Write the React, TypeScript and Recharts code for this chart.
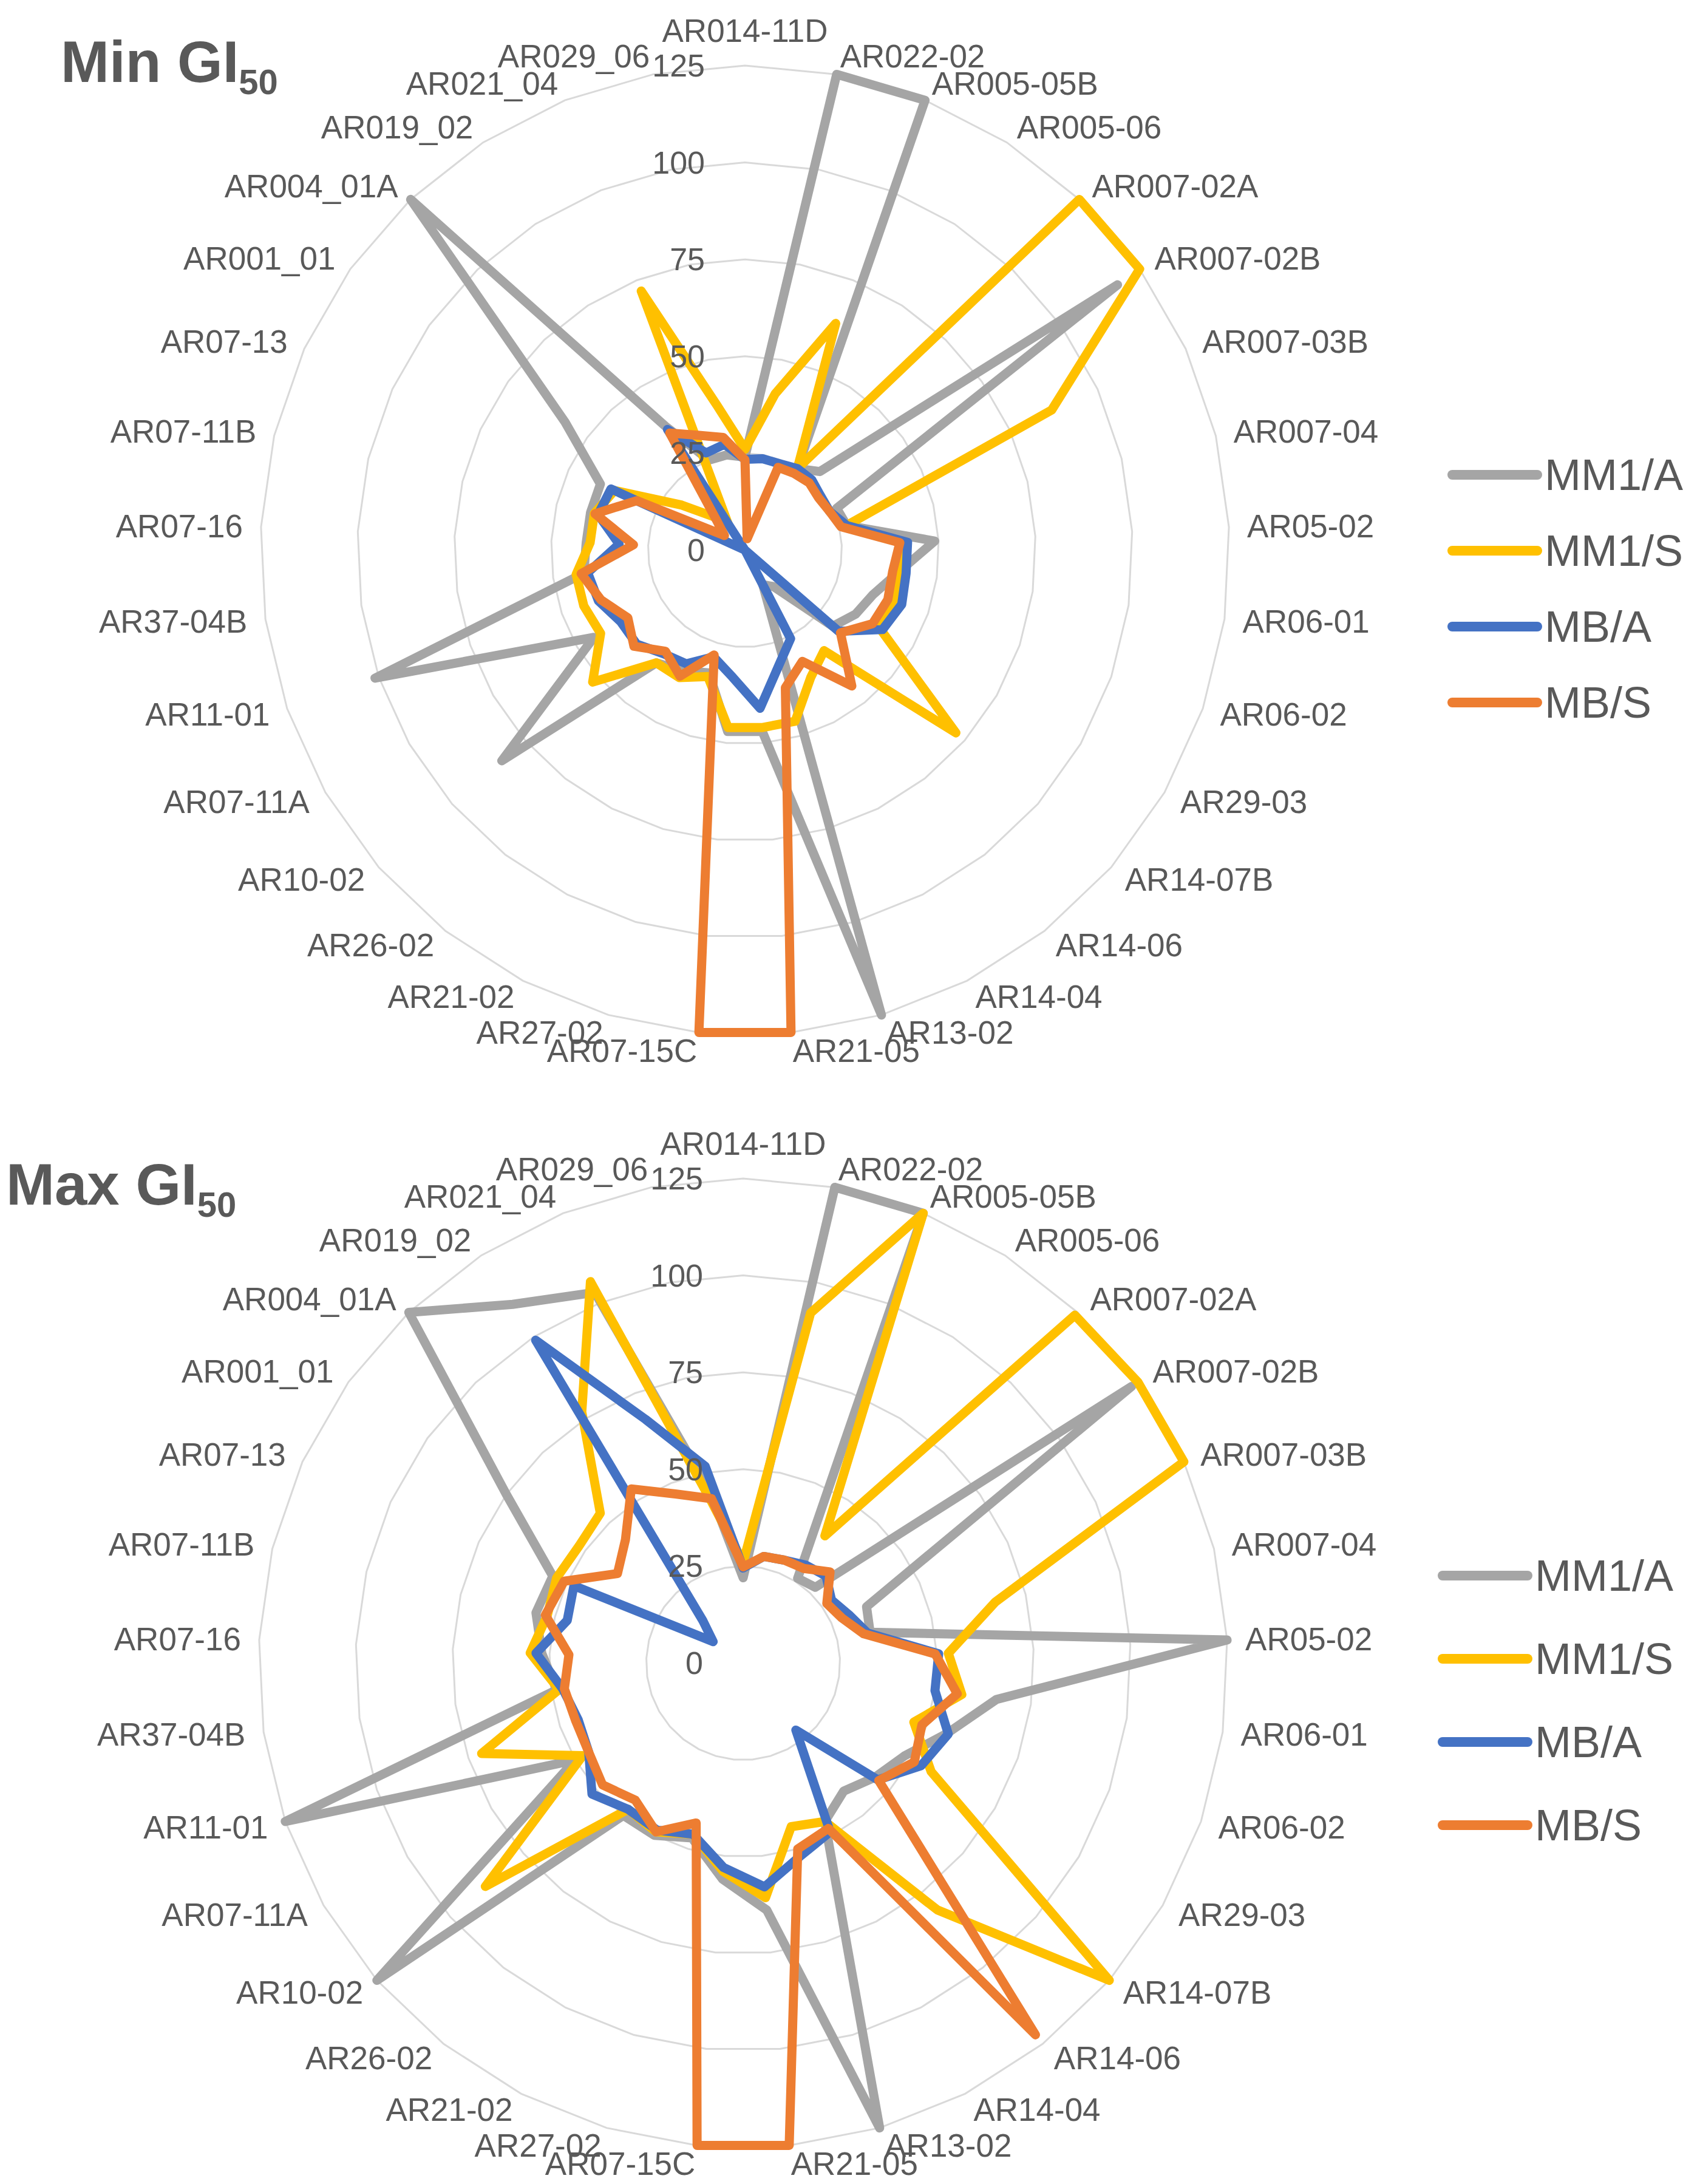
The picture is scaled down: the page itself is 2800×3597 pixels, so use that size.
import { RadarChart, Radar, PolarGrid, PolarAngleAxis, PolarRadiusAxis } from "recharts";

const CATEGORIES = [
  "AR014-11D", "AR022-02", "AR005-05B", "AR005-06", "AR007-02A", "AR007-02B",
  "AR007-03B", "AR007-04", "AR05-02", "AR06-01", "AR06-02", "AR29-03",
  "AR14-07B", "AR14-06", "AR14-04", "AR13-02", "AR21-05", "AR07-15C",
  "AR27-02", "AR21-02", "AR26-02", "AR10-02", "AR07-11A", "AR11-01",
  "AR37-04B", "AR07-16", "AR07-11B", "AR07-13", "AR001_01", "AR004_01A",
  "AR019_02", "AR021_04", "AR029_06",
];

const RADIUS_TICKS = [0, 25, 50, 75, 100, 125];

// Min GI50
const MIN_MM1_A = [24, 125, 125, 25, 28, 118, 26, 27, 49, 40, 35, 33, 30, 12, 10, 125, 47, 47, 33, 35, 37, 83, 45, 101, 42, 41, 41, 41, 57, 125, 38, 25, 25];
const MIN_MM1_S = [26, 41, 63, 25, 125, 125, 87, 27, 41, 40, 41, 40, 72, 33, 37, 46, 46, 46, 34, 37, 37, 52, 43, 44, 44, 40, 40, 37, 20, 12, 8, 72, 38];
const MIN_MB_A = [23.4, 24, 24, 25, 25, 24, 24, 27, 42, 42, 42.8, 41, 32, 0, 25.7, 31, 41, 33, 28.7, 33, 34, 37, 37, 40, 41, 32.5, 39, 38, 0, 0, 37, 27, 27.8];
const MIN_MB_S = [23.3, 3, 23, 23.5, 24, 23.3, 24, 25.5, 40, 38.5, 39, 38, 32.6, 44.6, 32.3, 37, 125, 125, 28.2, 36.6, 33.2, 37.9, 34.9, 39.3, 42.7, 28.8, 39.8, 30.7, 6.5, 10.6, 35.9, 31.9, 29.6];

// Max GI50
const MAX_MM1_A = [22, 125, 125, 26, 27, 123, 35, 33.7, 125, 66, 55.6, 48, 45, 42, 46, 125, 64, 56, 47, 50, 50, 125, 50, 125, 48.6, 52, 55, 54, 75, 125, 110, 103, 45];
const MAX_MM1_S = [26, 92, 125, 39, 124, 125, 125, 67, 53, 57, 46.6, 56, 125, 81, 46, 44, 60.8, 54, 46, 49, 48, 88, 47.8, 71.4, 48, 55, 52, 52.9, 52, 53.4, 77, 106, 42];
const MAX_MB_A = [24.5, 28, 28.6, 30, 31, 28, 30, 33, 50.5, 50, 56, 53, 46, 22, 49, 52, 58, 53, 46, 48.5, 48, 51.6, 46, 45, 47, 53.5, 46.7, 48, 9.5, 15, 99, 67.7, 51.7];
const MAX_MB_S = [24.8, 28, 28.6, 29, 32.5, 26.5, 28, 32, 49.6, 55.8, 48.8, 51, 46.3, 122, 48, 50, 125, 125, 43, 49, 45, 48, 46, 45.7, 46.6, 45, 52.5, 50.8, 39.8, 44, 53.4, 47, 43.2];

const SERIES = [
  { key: "MM1/A", color: "#A5A5A5" },
  { key: "MM1/S", color: "#FFC000" },
  { key: "MB/A", color: "#4472C4" },
  { key: "MB/S", color: "#ED7D31" },
];

const buildRows = (a: number[], s: number[], ba: number[], bs: number[]) =>
  CATEGORIES.map((name, i) => ({ name, "MM1/A": a[i], "MM1/S": s[i], "MB/A": ba[i], "MB/S": bs[i] }));

const minRows = buildRows(MIN_MM1_A, MIN_MM1_S, MIN_MB_A, MIN_MB_S);
const maxRows = buildRows(MAX_MM1_A, MAX_MM1_S, MAX_MB_A, MAX_MB_S);

const FONT = "'Liberation Sans', Arial, sans-serif";
const TEXT = "#595959";
const W = 2800;
const H = 1800;

const angleTick = (cx: number, cy: number, r: number) => (props: any) => {
  const { index, payload } = props;
  const a = ((index * 360) / CATEGORIES.length) * (Math.PI / 180);
  const s = Math.sin(a);
  const c = Math.cos(a);
  const rr = r + 30;
  const x = cx + rr * s;
  let y = cy - rr * c;
  if (index === 0) y -= 28;
  const anchor = Math.abs(s) < 0.01 ? "middle" : s > 0 ? "start" : "end";
  return (
    <text x={x} y={y} textAnchor={anchor} dominantBaseline="central" fontSize={53} fill={TEXT} fontFamily={FONT}>
      {payload.value}
    </text>
  );
};

const radiusTick = (props: any) => {
  const { x, y, payload } = props;
  return (
    <text x={x - 66} y={y} textAnchor="end" dominantBaseline="central" fontSize={52} fill={TEXT} fontFamily={FONT}>
      {payload.value}
    </text>
  );
};

const Spider = ({ rows, cx, cy, r }: { rows: any[]; cx: number; cy: number; r: number }) => (
  <RadarChart
    width={W}
    height={H}
    data={rows}
    cx={cx}
    cy={cy}
    outerRadius={r}
    startAngle={90}
    endAngle={-270}
    margin={{ top: 0, right: 0, bottom: 0, left: 0 }}
  >
    <PolarGrid gridType="polygon" radialLines={false} stroke="#D9D9D9" strokeWidth={3} />
    <PolarAngleAxis dataKey="name" tick={angleTick(cx, cy, r)} axisLine={false} tickLine={false} />
    <PolarRadiusAxis
      angle={90}
      domain={[0, 125]}
      ticks={RADIUS_TICKS as any}
      tickCount={RADIUS_TICKS.length}
      axisLine={false}
      tickLine={false}
      tick={radiusTick}
    />
    {SERIES.map((s) => (
      <Radar
        key={s.key}
        name={s.key}
        dataKey={s.key}
        stroke={s.color}
        strokeWidth={15}
        strokeLinejoin="round"
        fill="none"
        fillOpacity={0}
        dot={false}
        isAnimationActive={false}
      />
    ))}
  </RadarChart>
);

const LegendBlock = ({ x, y, gap }: { x: number; y: number; gap: number }) => (
  <g>
    {SERIES.map((s, i) => (
      <g key={s.key}>
        <line x1={x} x2={x + 140} y1={y + i * gap} y2={y + i * gap} stroke={s.color} strokeWidth={16} strokeLinecap="round" />
        <text x={x + 152} y={y + i * gap} dominantBaseline="central" fontSize={72} fill={TEXT} fontFamily={FONT}>
          {s.key}
        </text>
      </g>
    ))}
  </g>
);

export default function App() {
  return (
    <div style={{ position: "absolute", left: 0, top: 0, width: 2800, height: 3597, background: "#fff" }}>
      <div style={{ position: "absolute", left: 0, top: 0 }}>
        <Spider rows={minRows} cx={1227} cy={906} r={798} />
      </div>
      <div style={{ position: "absolute", left: 0, top: 1800 }}>
        <Spider rows={maxRows} cx={1224} cy={939} r={798} />
      </div>
      <svg width={2800} height={3597} style={{ position: "absolute", left: 0, top: 0, pointerEvents: "none" }}>
        <text x={100} y={135} fontSize={96} fontWeight="bold" fill={TEXT} fontFamily={FONT}>
          Min GI<tspan fontSize={58} dy={20}>50</tspan>
        </text>
        <text x={10} y={1984} fontSize={96} fontWeight="bold" fill={TEXT} fontFamily={FONT}>
          Max GI<tspan fontSize={58} dy={20}>50</tspan>
        </text>
        <LegendBlock x={2392} y={782} gap={125} />
        <LegendBlock x={2376} y={2595} gap={137} />
      </svg>
    </div>
  );
}
